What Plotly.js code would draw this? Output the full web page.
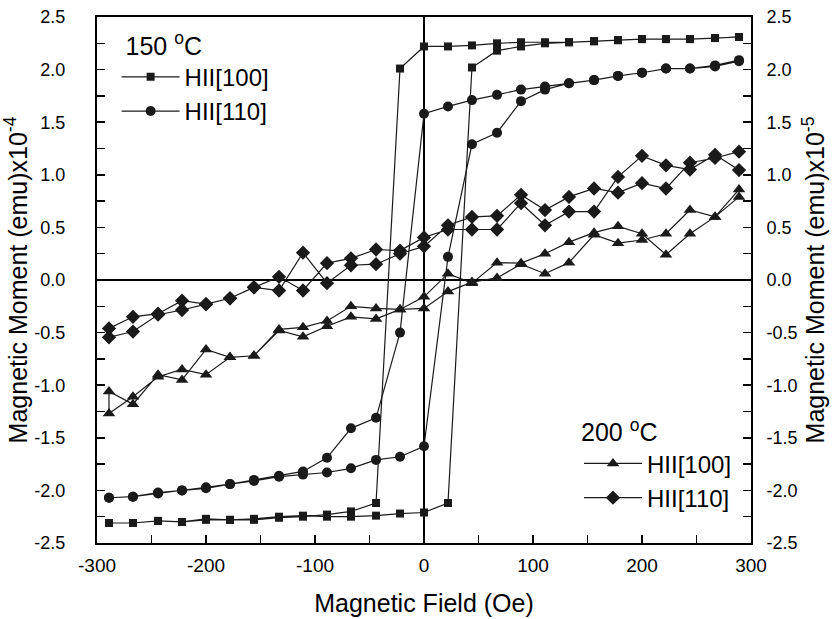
<!DOCTYPE html>
<html>
<head>
<meta charset="utf-8">
<script src="https://cdn.plot.ly/plotly-3.0.1.min.js"></script>
<style>html,body{margin:0;padding:0;background:#fff;}#chart{width:836px;height:619px;}</style>
</head>
<body>
<div id="chart"></div>
<script>
// Field values (Oe): descending branch then ascending branch
const fieldDesc = [289, 267, 244, 222, 200, 178, 156, 133, 111, 89, 67, 44, 22, 0, -22, -44, -67, -89, -111, -133, -156, -178, -200, -222, -244, -267, -289];
const fieldAsc = [-289, -267, -244, -222, -200, -178, -156, -133, -111, -89, -67, -44, -22, 0, 22, 44, 67, 89, 111, 133, 156, 178, 200, 222, 244, 267, 289];

// 150 °C, H||[100] (x1e-4 emu)
const sq100Desc = [2.31, 2.30, 2.29, 2.29, 2.29, 2.28, 2.27, 2.26, 2.26, 2.26, 2.25, 2.23, 2.22, 2.22, 2.01, -2.12, -2.20, -2.23, -2.25, -2.26, -2.28, -2.28, -2.27, -2.30, -2.29, -2.31, -2.31];
const sq100Asc = [-2.31, -2.31, -2.29, -2.30, -2.28, -2.28, -2.27, -2.25, -2.24, -2.25, -2.25, -2.24, -2.22, -2.21, -2.12, 2.02, 2.18, 2.22, 2.25, 2.26, 2.27, 2.28, 2.29, 2.29, 2.29, 2.30, 2.31];
// 150 °C, H||[110]
const c110Desc = [2.08, 2.03, 2.01, 2.01, 1.97, 1.94, 1.90, 1.87, 1.84, 1.81, 1.76, 1.71, 1.65, 1.58, -0.50, -1.31, -1.41, -1.69, -1.82, -1.86, -1.90, -1.94, -1.97, -2.00, -2.03, -2.06, -2.07];
const c110Asc = [-2.07, -2.06, -2.02, -2.00, -1.98, -1.94, -1.91, -1.87, -1.85, -1.83, -1.79, -1.71, -1.68, -1.58, 0.22, 1.29, 1.40, 1.70, 1.81, 1.87, 1.90, 1.94, 1.97, 2.01, 2.01, 2.04, 2.09];
// 200 °C, H||[100] (x1e-5 emu)
const t100Desc = [0.79, 0.60, 0.44, 0.24, 0.44, 0.51, 0.45, 0.36, 0.25, 0.16, 0.165, -0.03, 0.06, -0.16, -0.28, -0.27, -0.25, -0.39, -0.45, -0.47, -0.72, -0.735, -0.66, -0.95, -0.90, -1.18, -1.06];
const t100Asc = [-1.27, -1.11, -0.92, -0.85, -0.90, -0.735, -0.72, -0.48, -0.54, -0.44, -0.35, -0.37, -0.28, -0.27, -0.11, -0.02, 0.02, 0.15, 0.06, 0.165, 0.43, 0.35, 0.38, 0.44, 0.665, 0.60, 0.86];
// 200 °C, H||[110]
const d110Desc = [1.045, 1.19, 1.05, 1.09, 1.18, 0.98, 0.65, 0.65, 0.52, 0.73, 0.48, 0.48, 0.48, 0.405, 0.28, 0.29, 0.206, 0.16, -0.10, 0.03, -0.07, -0.174, -0.23, -0.197, -0.32, -0.35, -0.46];
const d110Asc = [-0.545, -0.49, -0.33, -0.285, -0.23, -0.174, -0.07, -0.10, 0.26, -0.03, 0.14, 0.15, 0.25, 0.32, 0.52, 0.60, 0.61, 0.81, 0.665, 0.79, 0.87, 0.83, 0.92, 0.87, 1.115, 1.16, 1.22];

const seriesNames = ['HII[100]', 'HII[110]', 'HII[100]', 'HII[110]'];
const legendTitles = ['\u00a0150 <sup>o</sup>C', '200 <sup>o</sup>C'];
const xTicks = [-300, -200, -100, 0, 100, 200, 300];
const yTicks = [-2.5, -2.0, -1.5, -1.0, -0.5, 0.0, 0.5, 1.0, 1.5, 2.0, 2.5];

const loopX = fieldDesc.concat(fieldAsc);
const ink = '#1a1a1a';
function mk(name, yd, ya, symbol, size, yaxis, legend, grp) {
  return {
    x: loopX, y: yd.concat(ya), name: name, type: 'scatter', mode: 'lines+markers',
    yaxis: yaxis, legend: legend, legendgroup: grp,
    line: {color: ink, width: 1.2},
    marker: {symbol: symbol, size: size, color: ink, line: {width: 0}}
  };
}
const data = [
  mk(seriesNames[0], sq100Desc, sq100Asc, 'square', 8, 'y', 'legend', 'a'),
  mk(seriesNames[1], c110Desc, c110Asc, 'circle', 10, 'y', 'legend', 'b'),
  mk(seriesNames[2], t100Desc, t100Asc, 'triangle-up', 11, 'y2', 'legend2', 'c'),
  mk(seriesNames[3], d110Desc, d110Asc, 'diamond', 11, 'y2', 'legend2', 'd')
];

const font = {family: 'Liberation Sans, Arial, sans-serif', color: '#000'};
const yCommon = {
  range: [-2.5, 2.5], tickvals: yTicks, ticktext: yTicks.map(v => v.toFixed(1)),
  ticks: 'inside', ticklen: 8, tickwidth: 1.5, tickcolor: '#000',
  minor: {dtick: 0.25, ticks: 'inside', ticklen: 8, tickwidth: 1.5, tickcolor: '#000'},
  showgrid: false, showline: true, linecolor: '#000', linewidth: 2,
  tickfont: {size: 18}
};
const layout = {
  width: 836, height: 619,
  margin: {l: 97, r: 85, t: 17, b: 76},
  paper_bgcolor: '#fff', plot_bgcolor: '#fff',
  font: font,
  showlegend: true,
  xaxis: {
    range: [-300, 300], tickvals: xTicks, ticktext: xTicks.map(v => String(v)),
    ticks: 'inside', ticklen: 8, tickwidth: 1.5, tickcolor: '#000',
    minor: {dtick: 50, ticks: 'inside', ticklen: 8, tickwidth: 1.5, tickcolor: '#000'},
    showgrid: false, showline: true, linecolor: '#000', linewidth: 2, mirror: true,
    zeroline: true, zerolinecolor: '#000', zerolinewidth: 2,
    tickfont: {size: 19}, ticklabelstandoff: 4,
    title: {text: 'Magnetic Field (Oe)', font: {size: 25}, standoff: 20}
  },
  yaxis: Object.assign({}, yCommon, {
    mirror: true, zeroline: true, zerolinecolor: '#000', zerolinewidth: 1.5,
    ticklabelstandoff: 26,
    title: {text: 'Magnetic Moment (emu)x10<sup>-4</sup>', font: {size: 25}, standoff: 0}
  }),
  yaxis2: Object.assign({}, yCommon, {
    overlaying: 'y', side: 'right', zeroline: false, ticklabelstandoff: 10,
    title: {text: 'Magnetic Moment (emu)x10<sup>-5</sup>', font: {size: 25}, standoff: 1}
  }),
  legend: {
    x: 0.03, y: 0.99, xanchor: 'left', yanchor: 'top', bgcolor: 'rgba(0,0,0,0)',
    font: {size: 24}, itemwidth: 58, traceorder: 'grouped', tracegroupgap: 0,
    title: {text: legendTitles[0], font: {size: 25}}
  },
  legend2: {
    x: 0.737, y: 0.255, xanchor: 'left', yanchor: 'top', bgcolor: 'rgba(0,0,0,0)',
    font: {size: 24}, itemwidth: 58, traceorder: 'grouped', tracegroupgap: 0,
    title: {text: legendTitles[1], font: {size: 25}}
  }
};
Plotly.newPlot('chart', data, layout, {displayModeBar: false, staticPlot: true});
</script>
</body>
</html>
